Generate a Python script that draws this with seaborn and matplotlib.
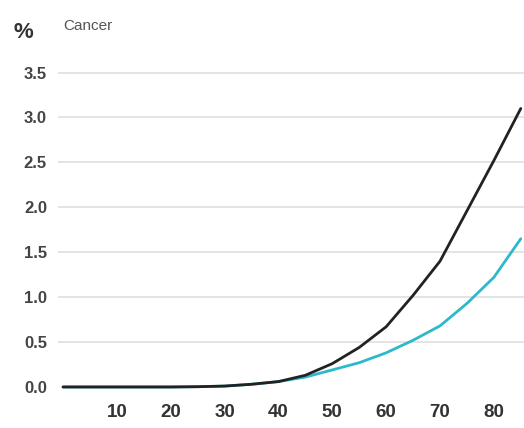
import pandas as pd
import matplotlib.pyplot as plt
import seaborn as sns

ages = [0, 5, 10, 15, 20, 25, 30, 35, 40, 45, 50, 55, 60, 65, 70, 75, 80, 85]
black_vals = [0, 0, 0, 0, 0, 0.003, 0.01, 0.03, 0.06, 0.13, 0.26, 0.44, 0.67, 1.02, 1.4, 1.96, 2.52, 3.1]
cyan_vals = [0, 0, 0, 0, 0, 0.003, 0.01, 0.03, 0.06, 0.11, 0.19, 0.27, 0.38, 0.52, 0.68, 0.93, 1.22, 1.65]
series_names = ["A", "B"]
yticks = [0.0, 0.5, 1.0, 1.5, 2.0, 2.5, 3.0, 3.5]
xticks = [10, 20, 30, 40, 50, 60, 70, 80]

df = pd.DataFrame({
    "age": ages * 2,
    "pct": black_vals + cyan_vals,
    "series": [series_names[0]] * len(ages) + [series_names[1]] * len(ages),
})

sns.set_style("white")
plt.rcParams["font.family"] = ["Liberation Sans", "DejaVu Sans"]

W, H = 524, 428
fig = plt.figure(figsize=(W / 100, H / 100), dpi=100)
ax = fig.add_axes([58 / W, 1 - 400 / H, (W - 58) / W, 340 / H])

for y in yticks[1:]:
    ax.axhline(y, color="#e2e2e2", lw=1.3, zorder=0)

sns.lineplot(data=df, x="age", y="pct", hue="series",
             palette={"A": "#222222", "B": "#2db9cc"},
             hue_order=["B", "A"], lw=2, legend=False, ax=ax)

ax.set_xlim(-0.93, 85.6)
ax.set_ylim(-0.145, 3.64)
ax.set_xticks(xticks)
ax.set_yticks(yticks)
ax.set_xticklabels([str(x) for x in xticks], fontsize=13.5, fontweight="bold", color="#333333")
ax.set_yticklabels([f"{y:.1f}" for y in yticks], fontsize=12, fontweight="bold", color="#444444")
ax.tick_params(axis="both", length=0)
ax.tick_params(axis="x", pad=3)
ax.tick_params(axis="y", pad=8)
ax.set_xlabel("")
ax.set_ylabel("")
sns.despine(ax=ax, left=True, bottom=True, top=True, right=True)

fig.text(13 / W, 1 - 33 / H, "%", fontsize=16, fontweight="bold", color="#333333", va="center")
fig.text(63 / W, 1 - 26 / H, "Cancer", fontsize=11, color="#555555", va="center")

fig.savefig("out.png", dpi=100)
